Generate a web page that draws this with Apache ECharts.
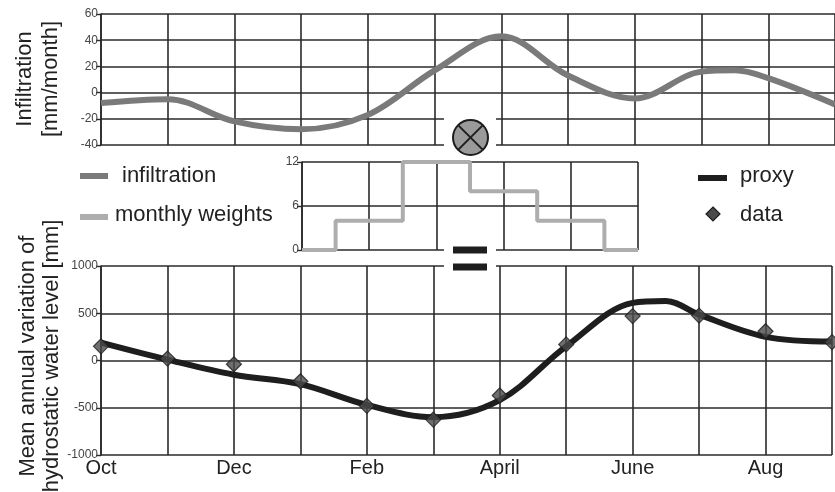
<!DOCTYPE html>
<html>
<head>
<meta charset="utf-8">
<script src="https://cdn.jsdelivr.net/npm/echarts@6/dist/echarts.min.js"></script>
<style>
  html, body { margin: 0; padding: 0; background: #fff; }
  #chart { width: 835px; height: 492px; }
</style>
</head>
<body>
<div id="chart"></div>
<script>
// Hydrological year, October to September (x = month index)
const months = ['Oct', 'Nov', 'Dec', 'Jan', 'Feb', 'Mar', 'April', 'May', 'June', 'Jul', 'Aug', 'Sep'];

// Infiltration [mm/month]
const infMonth = [0, 1, 2, 3, 4, 5, 6, 7, 8, 9, 9.5, 10, 11];
const infValue = [-8, -5, -22, -28, -17, 17, 43, 13, -4.5, 16, 17, 11, -9];

// Monthly weights (Jan .. June)
const weightMonth = [3, 4, 5, 6, 7, 8];
const weightValue = [0, 4, 12, 8, 4, 0];

// Proxy of the mean annual water level variation [mm]
const proxyMonth = [0, 1, 2, 3, 4, 5, 6, 7, 8, 8.5, 9, 10, 11];
const proxyValue = [190, 10, -150, -250, -470, -600, -420, 150, 610, 630, 485, 250, 200];

// Observed water level variation [mm]
const dataMonth = [0, 1, 2, 3, 4, 5, 6, 7, 8, 9, 10, 11];
const dataValue = [150, 20, -40, -220, -480, -625, -370, 170, 470, 475, 310, 195];

// Axis ticks
const infTicks = { min: -40, max: 60, interval: 20 };
const weightTicks = { min: 0, max: 12, interval: 6 };
const levelTicks = { min: -1000, max: 1000, interval: 500 };

const FONT = '"Liberation Sans", Arial, Helvetica, sans-serif';
const GRID_LINE = { show: true, lineStyle: { color: '#2a2a2a', width: 1.6 } };

const zip = (xs, ys) => xs.map((x, i) => [x, ys[i]]);

function monthAxis(gridIndex, min, max, showLabels) {
  return {
    type: 'value', gridIndex, min, max, interval: 1,
    axisLine: { show: false },
    axisTick: { show: false },
    splitLine: GRID_LINE,
    axisLabel: showLabels ? {
      show: true, margin: 3, color: '#222', fontSize: 20, fontFamily: FONT,
      formatter: v => (Math.round(v) % 2 === 0 ? months[Math.round(v)] : '')
    } : { show: false }
  };
}

function valueAxis(gridIndex, ticks) {
  return {
    type: 'value', gridIndex, min: ticks.min, max: ticks.max, interval: ticks.interval,
    axisLine: { show: true, lineStyle: { color: '#2a2a2a', width: 1.6 } },
    axisTick: { show: true, length: 5, lineStyle: { color: '#2a2a2a', width: 1.4 } },
    splitLine: GRID_LINE,
    axisLabel: { margin: 3, color: '#444', fontSize: 12, fontFamily: FONT, formatter: v => String(v) }
  };
}

const chart = echarts.init(document.getElementById('chart'), null, { renderer: 'canvas' });

const option = {
  backgroundColor: '#fff',
  animation: false,
  grid: [
    { left: 101, top: 14, width: 739, height: 131 },
    { left: 302, top: 162, width: 336, height: 88 },
    { left: 101, top: 266, width: 739, height: 189 }
  ],
  xAxis: [
    monthAxis(0, 0, 11, false),
    monthAxis(1, 3, 8, false),
    monthAxis(2, 0, 11, true)
  ],
  yAxis: [
    valueAxis(0, infTicks),
    valueAxis(1, weightTicks),
    valueAxis(2, levelTicks)
  ],
  series: [
    {
      name: 'infiltration', type: 'line', xAxisIndex: 0, yAxisIndex: 0,
      data: zip(infMonth, infValue), smooth: 0.35, showSymbol: false, clip: false,
      lineStyle: { color: '#7a7a7a', width: 6 }, z: 3
    },
    {
      name: 'monthly weights', type: 'line', xAxisIndex: 1, yAxisIndex: 1,
      data: zip(weightMonth, weightValue), step: 'middle', showSymbol: false, clip: false,
      lineStyle: { color: '#adadad', width: 4 }, z: 3
    },
    {
      name: 'proxy', type: 'line', xAxisIndex: 2, yAxisIndex: 2,
      data: zip(proxyMonth, proxyValue), smooth: 0.35, showSymbol: false, clip: false,
      lineStyle: { color: '#1e1e1e', width: 6 }, z: 3
    },
    {
      name: 'data', type: 'scatter', xAxisIndex: 2, yAxisIndex: 2,
      data: zip(dataMonth, dataValue), symbol: 'diamond', symbolSize: 15,
      itemStyle: { color: '#4a4a4a', borderColor: '#1e1e1e', borderWidth: 1.2 }, z: 4
    }
  ],
  graphic: [
    // axis titles
    {
      type: 'text', x: 38, y: 79, rotation: Math.PI / 2, z: 100,
      style: {
        text: 'Infiltration\n[mm/month]', font: '22px ' + FONT, fill: '#222',
        textAlign: 'center', textVerticalAlign: 'middle', lineHeight: 26
      }
    },
    {
      type: 'text', x: 40, y: 356, rotation: Math.PI / 2, z: 100,
      style: {
        text: 'Mean annual variation of\nhydrostatic water level [mm]', font: '22px ' + FONT, fill: '#222',
        textAlign: 'center', textVerticalAlign: 'middle', lineHeight: 24
      }
    },
    // legend: infiltration / monthly weights
    { type: 'rect', z: 100, shape: { x: 80, y: 173, width: 28, height: 6 }, style: { fill: '#7a7a7a' } },
    {
      type: 'text', z: 100, x: 122, y: 176,
      style: { text: 'infiltration', font: '22px ' + FONT, fill: '#222', textVerticalAlign: 'middle' }
    },
    { type: 'rect', z: 100, shape: { x: 80, y: 214, width: 28, height: 6 }, style: { fill: '#adadad' } },
    {
      type: 'text', z: 100, x: 115, y: 215,
      style: { text: 'monthly weights', font: '22px ' + FONT, fill: '#222', textVerticalAlign: 'middle' }
    },
    // legend: proxy / data
    { type: 'rect', z: 100, shape: { x: 698, y: 175, width: 29, height: 6 }, style: { fill: '#1e1e1e' } },
    {
      type: 'text', z: 100, x: 740, y: 176,
      style: { text: 'proxy', font: '22px ' + FONT, fill: '#222', textVerticalAlign: 'middle' }
    },
    {
      type: 'polygon', z: 100,
      shape: { points: [[713, 207], [720, 214], [713, 221], [706, 214]] },
      style: { fill: '#4a4a4a', stroke: '#1e1e1e', lineWidth: 1.2 }
    },
    {
      type: 'text', z: 100, x: 740, y: 215,
      style: { text: 'data', font: '22px ' + FONT, fill: '#222', textVerticalAlign: 'middle' }
    },
    // convolution operator between infiltration and weights
    { type: 'rect', z: 100, shape: { x: 444, y: 108, width: 52, height: 50 }, style: { fill: '#fff' } },
    {
      type: 'circle', z: 101, shape: { cx: 470.5, cy: 137.5, r: 17.5 },
      style: { fill: '#9a9a9a', stroke: '#1e1e1e', lineWidth: 2 }
    },
    {
      type: 'line', z: 102, shape: { x1: 458.1, y1: 125.1, x2: 482.9, y2: 149.9 },
      style: { stroke: '#1e1e1e', lineWidth: 2 }
    },
    {
      type: 'line', z: 102, shape: { x1: 482.9, y1: 125.1, x2: 458.1, y2: 149.9 },
      style: { stroke: '#1e1e1e', lineWidth: 2 }
    },
    // equals sign between weights and proxy
    { type: 'rect', z: 100, shape: { x: 444, y: 240, width: 52, height: 35 }, style: { fill: '#fff' } },
    { type: 'rect', z: 101, shape: { x: 453, y: 246.5, width: 34, height: 7 }, style: { fill: '#1e1e1e' } },
    { type: 'rect', z: 101, shape: { x: 453, y: 263.5, width: 34, height: 7 }, style: { fill: '#1e1e1e' } }
  ]
};

chart.setOption(option);
</script>
</body>
</html>
